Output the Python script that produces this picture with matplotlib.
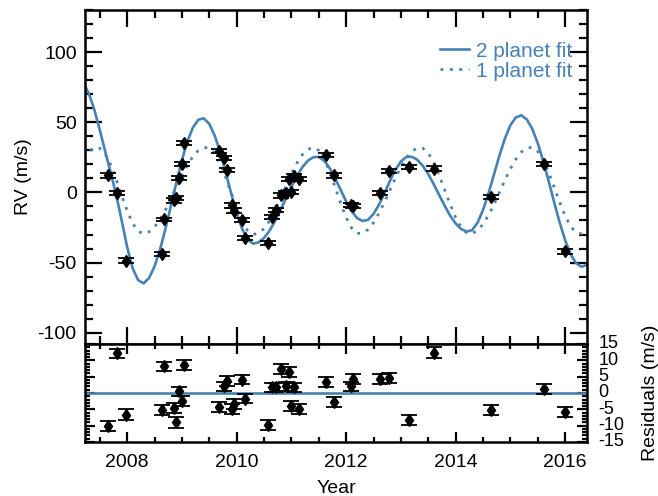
import numpy as np
import matplotlib.pyplot as plt
from matplotlib.ticker import MultipleLocator

plt.rcParams['font.family'] = ['Liberation Sans', 'DejaVu Sans']
plt.rcParams['axes.unicode_minus'] = False

# radial velocity measurements (year, m/s)
obs_year = [2007.65, 2007.81, 2007.98, 2008.63, 2008.68, 2008.86, 2008.89, 2008.94, 2009.01, 2009.04,
            2009.67, 2009.77, 2009.83, 2009.92, 2009.96, 2010.10, 2010.16,
            2010.57, 2010.65, 2010.72, 2010.81, 2010.90, 2010.96, 2010.99, 2011.04, 2011.13,
            2011.63, 2011.77, 2012.09, 2012.12, 2012.61, 2012.78, 2013.14, 2013.61,
            2014.65, 2015.61, 2016.00]
rv = [12.1, -0.2, -48.6, -43.8, -19.3, -5.7, -4.0, 10.2, 20.5, 35.2,
      29.5, 24.5, 16.2, -9.3, -12.9, -19.5, -32.6,
      -36.2, -17.6, -12.4, -2.1, -0.5, 9.8, 0.2, 11.4, 9.8,
      26.9, 12.1, -9.2, -9.8, -0.5, 15.0, 18.1, 16.9,
      -3.3, 20.0, -42.1]
rv_err = [1.5, 1.5, 1.6, 1.5, 1.4, 1.5, 1.6, 1.4, 1.5, 1.6,
          1.5, 1.4, 1.5, 1.6, 1.5, 1.5, 1.4,
          1.5, 1.5, 1.4, 1.6, 1.5, 1.5, 1.5, 1.4, 1.5,
          1.5, 1.6, 1.5, 1.5, 1.5, 1.4, 1.6, 1.7,
          1.5, 1.4, 1.5]
resid = [-10.0, 12.1, -6.6, -5.2, 8.2, -4.6, -9.0, 0.5, -2.4, 8.5,
         -4.4, 2.0, 3.6, -4.9, -3.4, 4.1, -1.7,
         -9.7, 1.7, 1.7, 7.3, 2.0, 6.4, -4.1, 1.7, -4.8,
         3.3, -2.8, 2.0, 4.3, 4.4, 4.6, -8.2, 12.3,
         -5.3, 1.2, -5.9]

# model curves sampled every 0.1 yr from 2007.2 to 2016.4
fit_year = np.round(np.arange(2007.2, 2016.45, 0.1), 1)
fit_2pl = [78.0, 70.5, 59.0, 44.5, 29.0, 14.0, -2.0, -20.0,
           -39.0, -54.0, -62.5, -64.8, -61.0, -52.7, -40.7, -25.8, -9.4, 7.3,
           23.0, 36.3, 46.2, 51.8, 52.8, 48.8, 40.4, 28.4, 14.2, -0.7,
           -14.6, -26.0, -33.5, -36.5, -35.6, -32.4, -27.3, -20.5, -12.6, -4.2,
           4.1, 11.7, 18.0, 22.6, 25.1, 25.3, 22.6, 17.2, 9.9, 1.7,
           -6.5, -13.5, -18.3, -20.4, -19.5, -15.3, -8.7, -0.5, 8.2, 16.1,
           22.1, 25.3, 25.4, 23.2, 18.9, 13.0, 5.8, -1.9, -9.6, -16.6,
           -22.2, -26.1, -27.9, -26.9, -21.6, -12.5, -0.6, 12.8, 26.3, 38.5,
           47.9, 53.5, 54.9, 52.0, 45.2, 35.0, 22.2, 7.8, -7.2, -21.5,
           -34.1, -44.1, -50.5, -53.0, -51.5]
fit_1pl = [25.1, 29.4, 31.7, 31.5, 27.3, 19.5, 9.2, -2.2,
           -13.1, -22.0, -27.7, -29.5, -28.1, -24.6, -19.2, -12.4, -4.4, 3.9,
           12.1, 19.4, 25.5, 29.8, 31.9, 31.8, 27.8, 20.4, 10.6, -0.5,
           -11.4, -20.7, -27.2, -29.9, -29.2, -25.8, -20.3, -12.9, -4.4, 4.6,
           13.3, 20.9, 26.9, 30.7, 32.0, 29.9, 23.8, 14.6, 3.6, -7.8,
           -17.9, -25.4, -29.2, -29.1, -26.4, -21.5, -14.8, -6.9, 1.7, 10.3,
           18.1, 24.6, 29.3, 31.7, 31.5, 28.0, 21.2, 12.2, 1.8, -8.6,
           -17.9, -24.9, -28.8, -29.3, -27.1, -22.6, -16.3, -8.5, 0.1, 8.8,
           16.9, 23.7, 28.8, 31.7, 32.1, 29.2, 22.9, 14.0, 3.6, -7.1,
           -16.8, -24.2, -28.6, -29.4, -27.5]

blue = '#4682b4'

fig = plt.figure(figsize=(6.58, 4.96), dpi=100)
ax = fig.add_axes([0.1292, 0.3065, 0.763, 0.6734])
axr = fig.add_axes([0.1292, 0.1089, 0.763, 0.1976], sharex=ax)

# --- RV panel ---
ax.plot(fit_year, fit_2pl, color=blue, lw=1.9, label='2 planet fit', zorder=2)
ax.plot(fit_year, fit_1pl, color=blue, lw=2.0, linestyle=(0, (1, 2.4)),
        label='1 planet fit', zorder=2)
ax.errorbar(obs_year, rv, yerr=rv_err, fmt='d', color='k', ms=6.5,
            elinewidth=1, capsize=6, capthick=1.3, zorder=3)

ax.set_xlim(2007.23, 2016.40)
ax.set_ylim(-108, 130)
ax.set_ylabel('RV (m/s)', fontsize=14, labelpad=4)
ax.yaxis.set_major_locator(MultipleLocator(50))
ax.yaxis.set_minor_locator(MultipleLocator(10))
ax.xaxis.set_major_locator(MultipleLocator(2))
ax.xaxis.set_minor_locator(MultipleLocator(0.5))
ax.tick_params(which='both', direction='in', top=True, right=True,
               labelbottom=False, labelsize=14, width=1.6, pad=6)
ax.tick_params(which='major', length=12)
ax.tick_params(which='minor', length=6)

leg = ax.legend(loc='upper right', bbox_to_anchor=(0.97, 0.905), frameon=False,
                fontsize=15, handlelength=1.4, handletextpad=0.3,
                labelspacing=0.05, borderpad=0, borderaxespad=0)
for txt in leg.get_texts():
    txt.set_color(blue)

# --- residual panel ---
axr.axhline(0, color=blue, lw=1.9, zorder=2)
axr.errorbar(obs_year, resid, yerr=rv_err, fmt='d', color='k', ms=6.5,
             elinewidth=1, capsize=6, capthick=1.3, zorder=3)
axr.set_ylim(-15, 15)
axr.yaxis.set_major_locator(MultipleLocator(5))
axr.yaxis.set_minor_locator(MultipleLocator(1))
axr.yaxis.set_label_position('right')
axr.set_ylabel('Residuals (m/s)', fontsize=14, labelpad=13)
axr.set_xlabel('Year', fontsize=14, labelpad=6)
axr.tick_params(which='both', direction='in', top=True, right=True,
                labelleft=False, labelright=True, width=1.6)
axr.tick_params(axis='x', labelsize=14, pad=9)
axr.tick_params(axis='y', labelsize=13, pad=8)
axr.tick_params(which='major', length=7)
axr.tick_params(which='minor', length=3.5)
for lab in axr.get_yticklabels():
    lab.set_verticalalignment('center')

for a in (ax, axr):
    for sp in a.spines.values():
        sp.set_linewidth(1.8)

fig.savefig('out.png', dpi=100)
